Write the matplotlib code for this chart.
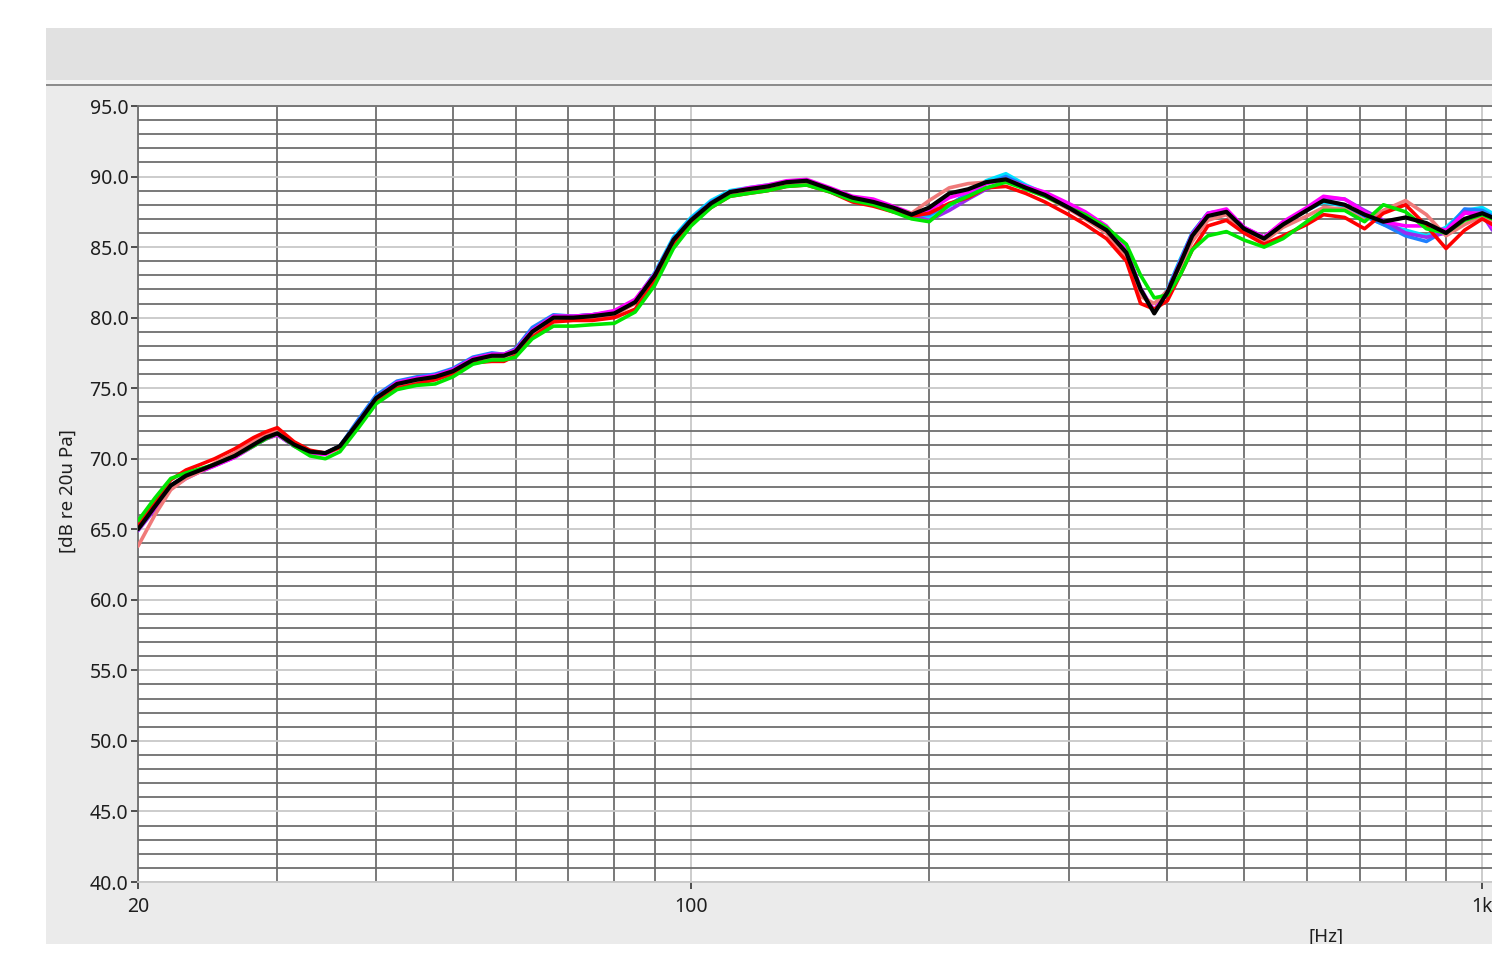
import matplotlib
matplotlib.use("Agg")
import matplotlib.pyplot as plt
from matplotlib.patches import Rectangle
from matplotlib.ticker import FixedLocator, MultipleLocator, FormatStrFormatter, NullFormatter

plt.rcParams['font.family'] = ['Noto Sans', 'DejaVu Sans']

# Frequency points [Hz]
freq = [20, 21, 22, 23, 24, 25, 26.5, 28, 29, 30, 31.5, 33, 34.5, 36, 38, 40,
        42.5, 45, 47.5, 50, 53, 56, 58, 60, 63, 67, 71, 75, 80, 85, 90, 95, 100,
        106, 112, 118, 125, 132, 140, 150, 160, 170, 180, 190, 200, 212, 224, 236,
        250, 265, 280, 300, 315, 335, 355, 370, 385, 400, 415, 430, 450, 475, 500,
        530, 560, 600, 630, 670, 710, 750, 800, 850, 900, 950, 1000, 1030]

# SPL curves [dB re 20 uPa]
spl_black = [65.0, 66.6, 68.1, 68.8, 69.2, 69.6, 70.2, 71.0, 71.5, 71.8,
             71.0, 70.5, 70.4, 70.9, 72.6, 74.3, 75.3, 75.6, 75.8, 76.2,
             77.0, 77.3, 77.3, 77.6, 79.0, 80.0, 80.0, 80.1, 80.3, 81.1, 83.0, 85.5, 86.9,
             88.1, 88.9, 89.1, 89.3, 89.6, 89.7, 89.1, 88.5, 88.2, 87.8, 87.3, 87.8,
             88.8, 89.1, 89.6, 89.8, 89.2, 88.7, 87.8, 87.1, 86.2, 84.6, 82.0, 80.3,
             81.8, 83.8, 85.8, 87.2, 87.5, 86.3, 85.6, 86.6, 87.6, 88.3, 88.0, 87.3,
             86.8, 87.1, 86.7, 86.0, 87.0, 87.4, 87.1]

spl_red = [65.3, 67.0, 68.5, 69.2, 69.6, 70.0, 70.7, 71.5, 71.9, 72.2,
           71.2, 70.6, 70.4, 70.8, 72.4, 74.0, 75.0, 75.3, 75.6, 76.0,
           76.8, 76.9, 76.9, 77.3, 78.6, 79.7, 79.8, 79.8, 80.0, 80.6, 82.6, 85.1, 86.7,
           87.8, 88.6, 88.8, 89.0, 89.3, 89.4, 88.9, 88.2, 87.9, 87.5, 87.2, 87.4,
           88.1, 88.5, 89.2, 89.3, 88.8, 88.2, 87.3, 86.6, 85.6, 84.0, 81.0, 80.6,
           81.2, 83.0, 84.8, 86.5, 86.9, 86.0, 85.2, 85.8, 86.6, 87.3, 87.1, 86.3,
           87.4, 88.0, 86.5, 84.9, 86.2, 87.0, 86.6]

spl_salmon = [63.8, 66.0, 67.8, 68.6, 69.1, 69.7, 70.4, 71.3, 71.7, 72.0,
              71.1, 70.5, 70.4, 70.8, 72.5, 74.1, 75.1, 75.4, 75.6, 76.1,
              76.9, 77.1, 77.1, 77.5, 78.8, 79.8, 79.9, 80.0, 80.2, 81.0, 82.9, 85.4, 86.9,
              88.0, 88.7, 88.9, 89.2, 89.5, 89.7, 89.0, 88.4, 88.1, 87.7, 87.4, 88.3,
              89.2, 89.5, 89.6, 89.8, 89.1, 88.6, 87.7, 87.0, 86.0, 84.3, 81.5, 81.0,
              81.9, 83.6, 85.4, 86.9, 87.3, 86.1, 85.4, 86.4, 87.2, 87.8, 87.7, 86.9,
              87.6, 88.3, 87.3, 85.8, 86.6, 87.2, 86.8]

spl_green = [65.6, 67.2, 68.6, 69.0, 69.3, 69.6, 70.2, 70.9, 71.4, 71.8,
             70.9, 70.2, 70.0, 70.5, 72.2, 73.9, 74.9, 75.2, 75.3, 75.8,
             76.7, 77.0, 77.0, 77.2, 78.5, 79.4, 79.4, 79.5, 79.6, 80.4, 82.3, 84.9, 86.5,
             87.8, 88.6, 88.8, 89.0, 89.3, 89.4, 88.9, 88.3, 88.0, 87.5, 87.0, 86.8,
             88.0, 88.6, 89.2, 89.6, 89.1, 88.6, 87.8, 87.3, 86.4, 85.2, 83.0, 81.4,
             81.6, 83.0, 84.8, 85.8, 86.1, 85.5, 85.0, 85.6, 86.8, 87.6, 87.6, 86.8,
             88.0, 87.5, 86.3, 86.0, 86.9, 87.3, 87.0]

spl_magenta = [65.1, 66.5, 68.0, 68.7, 69.1, 69.5, 70.1, 70.9, 71.4, 71.7,
               70.9, 70.4, 70.3, 70.8, 72.6, 74.3, 75.4, 75.7, 75.9, 76.3,
               77.1, 77.4, 77.4, 77.7, 79.1, 80.1, 80.1, 80.2, 80.5, 81.3, 83.1, 85.5, 86.9,
               88.1, 88.9, 89.2, 89.4, 89.7, 89.8, 89.2, 88.6, 88.4, 87.9, 87.4, 87.6,
               88.5, 88.9, 89.5, 89.8, 89.3, 88.9, 88.1, 87.5, 86.5, 84.8, 82.0, 80.5,
               81.9, 83.9, 85.9, 87.4, 87.7, 86.4, 85.7, 86.8, 87.8, 88.6, 88.4, 87.5,
               86.8, 86.5, 86.5, 86.2, 87.4, 87.4, 86.4]

spl_purple = [64.9, 66.4, 67.9, 68.6, 69.1, 69.5, 70.1, 70.9, 71.4, 71.7,
              70.9, 70.4, 70.4, 70.9, 72.6, 74.3, 75.4, 75.7, 75.9, 76.3,
              77.1, 77.4, 77.4, 77.7, 79.1, 80.1, 80.1, 80.2, 80.4, 81.2, 83.0, 85.5, 86.9,
              88.1, 88.9, 89.1, 89.3, 89.6, 89.7, 89.1, 88.5, 88.2, 87.8, 87.2, 86.9,
              87.6, 88.4, 89.1, 89.7, 89.3, 88.8, 88.0, 87.3, 86.4, 84.8, 82.1, 80.4,
              81.8, 83.8, 85.8, 87.3, 87.6, 86.4, 85.7, 86.7, 87.7, 88.5, 88.4, 87.6,
              86.9, 86.0, 85.7, 86.0, 87.5, 87.3, 86.2]

spl_blue = [65.0, 66.6, 68.1, 68.8, 69.2, 69.6, 70.2, 71.0, 71.5, 71.8,
            71.0, 70.5, 70.4, 70.9, 72.8, 74.5, 75.5, 75.8, 76.0, 76.4,
            77.2, 77.5, 77.4, 77.8, 79.3, 80.2, 80.1, 80.2, 80.4, 81.2, 83.1, 85.6, 87.0,
            88.2, 88.9, 89.1, 89.3, 89.6, 89.7, 89.1, 88.5, 88.2, 87.8, 87.3, 87.3,
            88.0, 88.8, 89.5, 90.0, 89.3, 88.8, 87.9, 87.2, 86.3, 84.7, 81.9, 80.4,
            81.9, 84.0, 86.0, 87.4, 87.6, 86.3, 85.7, 86.7, 87.7, 88.3, 88.0, 87.2,
            86.6, 85.8, 85.4, 86.2, 87.7, 87.6, 87.2]

spl_cyan = [65.1, 66.7, 68.1, 68.8, 69.2, 69.6, 70.2, 71.0, 71.5, 71.7,
            70.9, 70.4, 70.4, 70.9, 72.7, 74.4, 75.4, 75.7, 75.9, 76.3,
            77.1, 77.4, 77.4, 77.7, 79.1, 80.1, 80.1, 80.2, 80.4, 81.2, 83.2, 85.7, 87.1,
            88.3, 89.0, 89.2, 89.4, 89.6, 89.7, 89.1, 88.5, 88.2, 87.8, 87.2, 87.1,
            87.9, 88.8, 89.7, 90.2, 89.4, 88.8, 87.9, 87.2, 86.3, 84.6, 81.8, 80.5,
            82.0, 84.1, 86.0, 87.4, 87.6, 86.3, 85.6, 86.6, 87.6, 88.2, 87.9, 87.2,
            86.6, 86.2, 85.8, 86.4, 87.6, 87.8, 87.4]

x_major = [20, 100, 1000]
x_major_labels = ["20", "100", "1k"]
x_minor = [30, 40, 50, 60, 70, 80, 90, 200, 300, 400, 500, 600, 700, 800, 900]

W, H = 1492, 959
fig = plt.figure(figsize=(W / 100, H / 100), dpi=100, facecolor="white")


def frect(x0, y0, x1, y1, **kw):
    r = Rectangle((x0 / W, 1 - y1 / H), (x1 - x0) / W, (y1 - y0) / H,
                  transform=fig.transFigure, zorder=-5, **kw)
    fig.patches.append(r)
    return r


# window chrome: toolbar strip, separator and graph panel
frect(46, 28, W, 80, facecolor="#e1e1e1", edgecolor="none")
frect(46, 80, W, 84, facecolor="#f3f3f3", edgecolor="none")
frect(46, 84, W, 86, facecolor="#8c8c8c", edgecolor="none")
panel = frect(46, 86, W, 944, facecolor="#ebebeb", edgecolor="none")

# plot area (extends past the right edge of the window)
ax_left, ax_right, ax_top, ax_bottom = 138, 1515, 106, 882
ax = fig.add_axes([ax_left / W, 1 - ax_bottom / H,
                   (ax_right - ax_left) / W, (ax_bottom - ax_top) / H])
ax.set_zorder(1)
ax.set_facecolor("white")
ax.set_xscale("log")
ax.set_xlim(20, 1100)
ax.set_ylim(40, 95)

dark = "#6e6e6e"
light = "#c8c8c8"

ax.xaxis.set_major_locator(FixedLocator(x_major))
ax.xaxis.set_minor_locator(FixedLocator(x_minor))
ax.set_xticklabels(x_major_labels)
ax.xaxis.set_minor_formatter(NullFormatter())
ax.yaxis.set_major_locator(MultipleLocator(5))
ax.yaxis.set_minor_locator(MultipleLocator(1))
ax.yaxis.set_major_formatter(FormatStrFormatter("%.1f"))

ax.grid(True, which="major", color=light, linewidth=1.3, zorder=1)
ax.grid(True, which="minor", color=dark, linewidth=1.3, zorder=1)
ax.set_axisbelow(True)

ax.spines["right"].set_visible(False)
ax.spines["left"].set_color(dark)
ax.spines["top"].set_color(dark)
ax.spines["bottom"].set_color(light)
for s in ("left", "top", "bottom"):
    ax.spines[s].set_linewidth(1.3)

ax.tick_params(axis="y", which="major", direction="out", length=5, width=1.2,
               color="#333333", pad=2, labelsize=14, labelcolor="#1e1e1e")
ax.tick_params(axis="y", which="minor", length=0)
ax.tick_params(axis="x", which="major", direction="out", length=5, width=1.2,
               color="#333333", pad=6, labelsize=14, labelcolor="#1e1e1e")
ax.tick_params(axis="x", which="minor", length=0)

traces = [
    (spl_cyan, "#00e1ff", 2.6),
    (spl_blue, "#1e7fff", 2.6),
    (spl_purple, "#9a2cf0", 2.6),
    (spl_magenta, "#ff00ff", 2.6),
    (spl_salmon, "#f07a7a", 2.6),
    (spl_red, "#ff0000", 2.6),
    (spl_green, "#00e600", 2.6),
    (spl_black, "#000000", 3.0),
]
for i, (vals, col, lw) in enumerate(traces):
    ax.plot(freq, vals, color=col, linewidth=lw, solid_joinstyle="round",
            solid_capstyle="round", zorder=3 + i)

fig.text(68 / W, 1 - 491 / H, "[dB re 20u Pa]", rotation=90, ha="center",
         va="center", fontsize=13.5, color="#1e1e1e")
hz = fig.text(1326 / W, 1 - 937 / H, "[Hz]", ha="center", va="center",
              fontsize=13.5, color="#1e1e1e")
hz.set_clip_path(panel)

fig.savefig("out.png", dpi=100, facecolor="white")
